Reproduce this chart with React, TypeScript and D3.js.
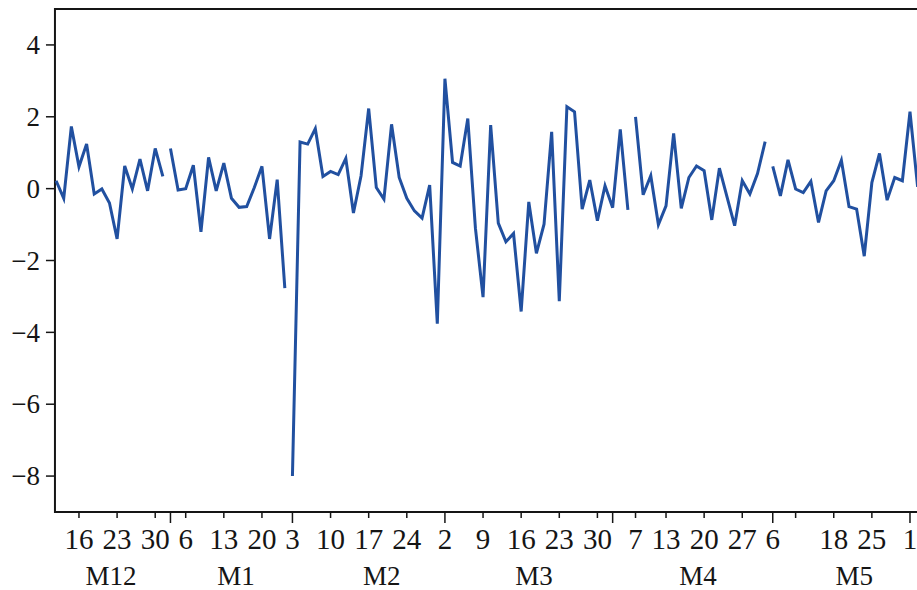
import React from "react";
import * as d3 from "d3";

// Daily returns (%), trading-day index 0 = Dec 11
const values: number[] = [
  0.22, -0.27, 1.73, 0.61, 1.24, -0.15, -0.01, -0.40, -1.40, 0.63, -0.01, 0.82, -0.06, 1.12, 0.34,
  1.12, -0.04, 0.0, 0.65, -1.2, 0.87, -0.06, 0.71, -0.27, -0.52, -0.5, 0.03, 0.62, -1.40, 0.25, -2.77,
  -8.0, 1.30, 1.24, 1.67, 0.34, 0.48, 0.39, 0.84, -0.68, 0.36, 2.23, 0.03, -0.29, 1.79, 0.31, -0.27,
  -0.62, -0.82, 0.10, -3.76, 3.06, 0.73, 0.63, 1.95, -1.1, -3.02, 1.77, -0.96, -1.48, -1.25, -3.42,
  -0.37, -1.80, -0.99, 1.58, -3.13, 2.28, 2.14, -0.57, 0.24, -0.89, 0.08, -0.53, 1.65, -0.59,
  2.0, -0.17, 0.36, -1.0, -0.48, 1.54, -0.55, 0.31, 0.63, 0.50, -0.87, 0.57, -0.23, -1.03, 0.22, -0.15, 0.42, 1.31,
  0.62, -0.2, 0.80, -0.01, -0.11, 0.2, -0.94, -0.06, 0.22, 0.79, -0.5, -0.57, -1.88, 0.17, 0.98, -0.32, 0.31, 0.22, 2.14, 0.05,
];

// index where each unbroken segment starts (holiday breaks)
const segmentStarts: number[] = [0, 15, 31, 76, 94];

// x-axis ticks: trading-day index, label, major (month start)
const tickIdx: number[] = [3, 8, 13, 15, 17, 22, 27, 31, 36, 41, 46, 51, 56, 61, 66, 71, 73, 76, 80, 85, 90, 94, 97, 102, 107, 112];
const tickLabels: string[] = ["16", "23", "30", "", "6", "13", "20", "3", "10", "17", "24", "2", "9", "16", "23", "30", "", "7", "13", "20", "27", "6", "", "18", "25", "1"];
const tickMajor: boolean[] = [false, false, false, true, false, false, false, true, false, false, false, true, false, false, false, false, true, false, false, false, false, true, false, false, false, true];

const monthLabels: string[] = ["M12", "M1", "M2", "M3", "M4", "M5"];
const monthCenters: number[] = [7.2, 23.6, 42.7, 62.7, 84.2, 104.7];

const yTicks: number[] = [4, 2, 0, -2, -4, -6, -8];

const W = 917;
const H = 590;

export default function App() {
  const x = d3.scaleLinear().domain([0, 113]).range([56.1, 56.1 + 113 * 7.624]);
  const y = d3.scaleLinear().domain([-9, 5]).range([512, 9]);

  const left = x(-0.15);
  const right = W + 10;
  const top = y(5);
  const bottom = y(-9);

  const lineGen = d3.line<number>().x((_, i) => 0).y((d) => y(d));
  void lineGen;

  const segments = segmentStarts.map((s, k) => {
    const e = k + 1 < segmentStarts.length ? segmentStarts[k + 1] : values.length;
    const pts = d3.range(s, e).map((i) => [x(i), y(values[i])] as [number, number]);
    return d3.line()(pts) as string;
  });

  const font = "'Liberation Serif', 'Times New Roman', serif";
  const ink = "#151515";

  return (
    <svg
      width={W}
      height={H}
      style={{ position: "absolute", left: 0, top: 0, background: "#fff", overflow: "hidden" }}
    >
      <rect x={0} y={0} width={W} height={H} fill="#fff" />
      {/* frame */}
      <rect x={left} y={top} width={right - left} height={bottom - top} fill="none" stroke={ink} strokeWidth={2} />
      {/* y ticks */}
      {yTicks.map((t) => (
        <g key={t}>
          <line x1={left - 9} x2={left} y1={y(t)} y2={y(t)} stroke={ink} strokeWidth={1.5} />
          <text
            x={left - 15}
            y={y(t)}
            dy="0.34em"
            textAnchor="end"
            fontFamily={font}
            fontSize={27}
            fill={ink}
          >
            {t < 0 ? "\u2212" + Math.abs(t) : String(t)}
          </text>
        </g>
      ))}
      {/* x ticks */}
      {tickIdx.map((ti, k) => (
        <g key={ti}>
          <line
            x1={x(ti)}
            x2={x(ti)}
            y1={bottom}
            y2={bottom + (tickMajor[k] ? 11 : 6)}
            stroke={ink}
            strokeWidth={1.5}
          />
          {tickLabels[k] && (
            <text x={x(ti)} y={549} textAnchor="middle" fontFamily={font} fontSize={29} fill={ink}>
              {tickLabels[k]}
            </text>
          )}
        </g>
      ))}
      {monthLabels.map((m, k) => (
        <text key={m} x={x(monthCenters[k])} y={585} textAnchor="middle" fontFamily={font} fontSize={27} fill={ink}>
          {m}
        </text>
      ))}
      {/* series */}
      <g>
        {segments.map((d, k) => (
          <path key={k} d={d} fill="none" stroke="#2150a0" strokeWidth={3} strokeLinejoin="miter" />
        ))}
      </g>
    </svg>
  );
}
